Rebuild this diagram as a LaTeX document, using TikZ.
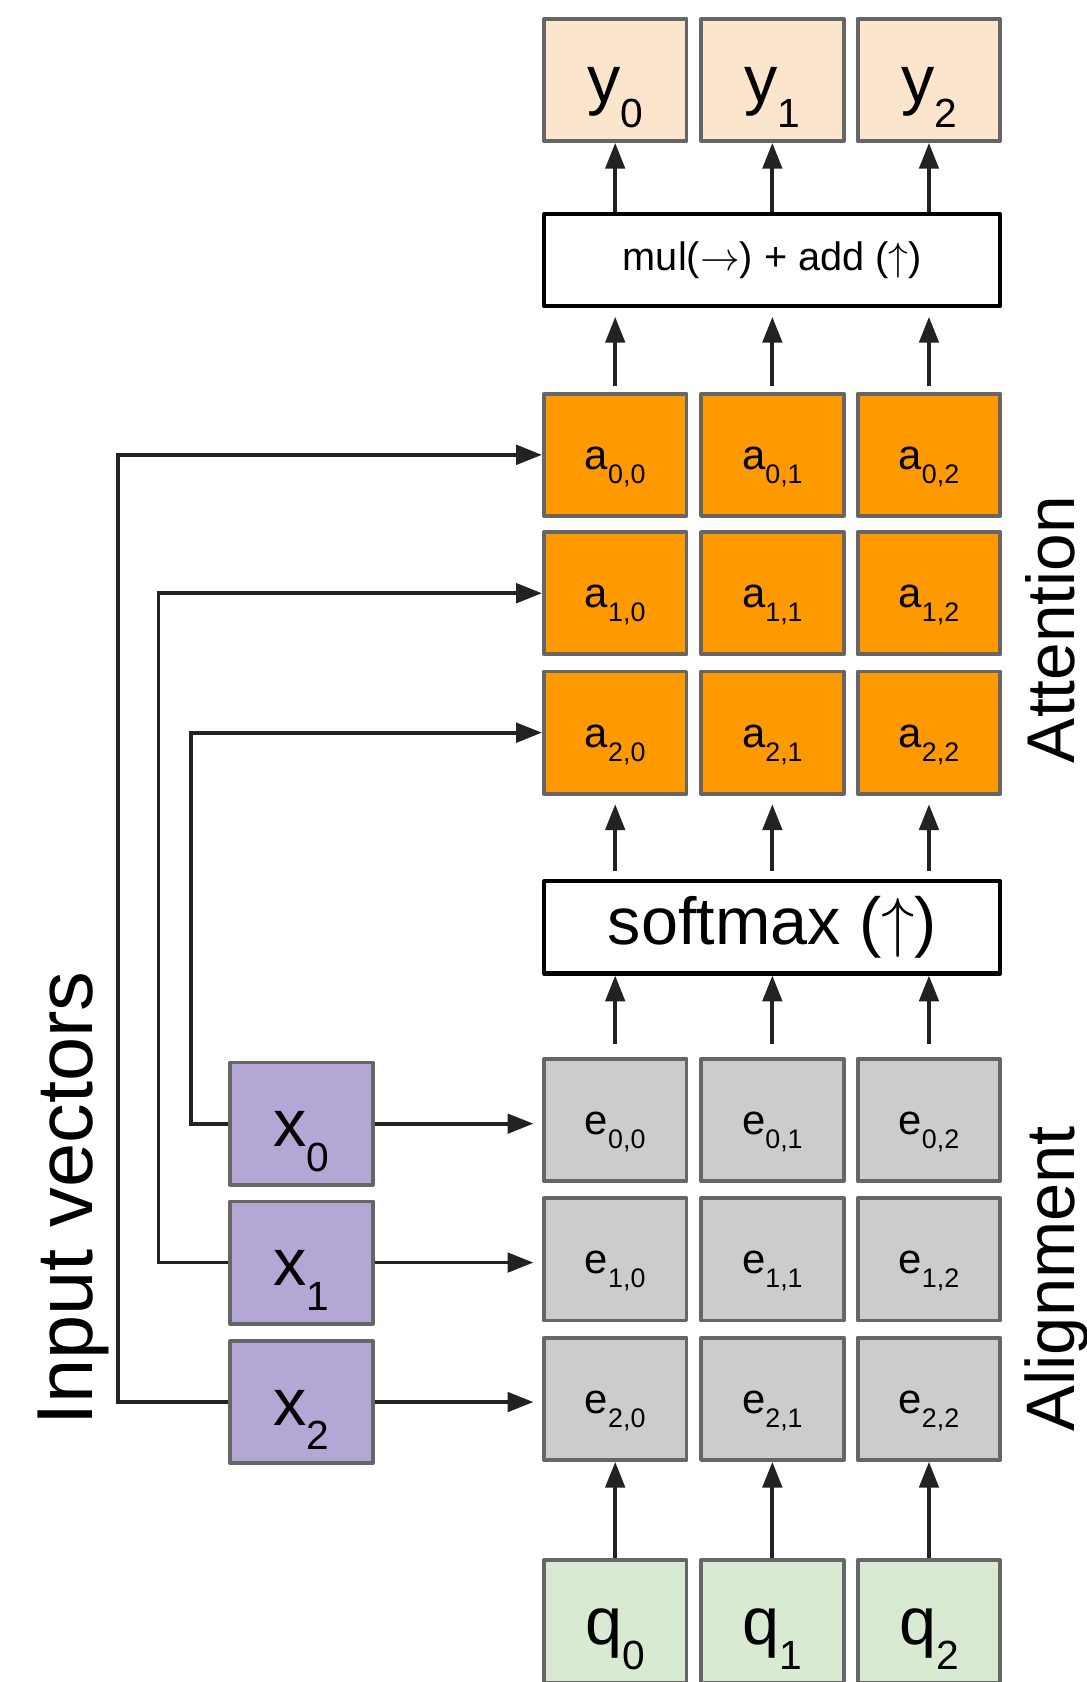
\RequirePackage{fix-cm}
\documentclass[tikz,border=0pt]{standalone}
\usepackage{fontspec}
\setmainfont{Liberation Sans}
\usetikzlibrary{arrows.meta}
\definecolor{ycol}{HTML}{FCE5CD}
\definecolor{acol}{HTML}{FF9900}
\definecolor{ecol}{HTML}{CCCCCC}
\definecolor{qcol}{HTML}{D9EAD3}
\definecolor{xcol}{HTML}{B4A7D6}
\definecolor{bordercol}{HTML}{666666}
\definecolor{arrcol}{HTML}{222222}
\newcommand{\BL}[2]{{\fontsize{62}{62}\selectfont #1\raisebox{-23pt}{\fontsize{38}{38}\selectfont #2}}}
\newcommand{\SL}[2]{{\fontsize{39}{39}\selectfont #1\raisebox{-13pt}{\fontsize{25}{25}\selectfont #2}}}
\tikzset{
  cell/.style={draw=bordercol, line width=3.5pt, line join=round, minimum width=133pt, minimum height=114pt, inner sep=0pt},
  bigcell/.style={cell, text height=43pt, text depth=0pt},
  smallcell/.style={cell, text height=27pt, text depth=0pt},
  opbox/.style={draw=black, line width=3.8pt, line join=round, fill=white, minimum width=425pt, minimum height=86pt, inner sep=0pt},
  arr/.style={draw=arrcol, line width=3.5pt, -{Triangle[width=18pt,length=24pt]}},
  sidetext/.style={rotate=90, anchor=base, inner sep=0pt}
}
\begin{document}
\begin{tikzpicture}[x=1pt, y=-1pt]
\useasboundingbox (0,0) rectangle (1013,1568);
\clip (0,0) rectangle (1013,1568);
% columns
\def\cA{573.5}\def\cB{720}\def\cC{866}
% output y
\foreach \c/\i in {\cA/0,\cB/1,\cC/2}{
  \node[bigcell, fill=ycol] (y\i) at (\c,74.5) {\BL{y}{\i}};
}
\node[opbox] (mul) at (720,242.5) {\fontsize{37}{37}\selectfont mul($\rightarrow$) + add ($\uparrow$)};
% attention
\foreach \r/\yy in {0/424,1/553,2/683}{
  \foreach \c/\j in {\cA/0,\cB/1,\cC/2}{
    \node[smallcell, fill=acol] (a\r\j) at (\c,\yy) {\SL{a}{\r,\j}};
  }
}
\node[opbox] (sm) at (720,864.5) {\fontsize{62}{62}\selectfont softmax ($\uparrow$)};
% alignment
\foreach \r/\yy in {0/1044,1/1174,2/1304}{
  \foreach \c/\j in {\cA/0,\cB/1,\cC/2}{
    \node[smallcell, fill=ecol] (e\r\j) at (\c,\yy) {\SL{e}{\r,\j}};
  }
}
% queries
\foreach \c/\i in {\cA/0,\cB/1,\cC/2}{
  \node[bigcell, fill=qcol] (q\i) at (\c,1511.5) {\BL{q}{\i}};
}
% inputs
\foreach \i/\yy in {0/1047.5,1/1177,2/1307}{
  \node[bigcell, fill=xcol] (x\i) at (281,\yy) {\BL{x}{\i}};
}
% side labels
\node[sidetext] (lin) at (86,1117.5) {\fontsize{74}{74}\selectfont Input vectors};
\node[sidetext] (latt) at (1002,587) {\fontsize{63}{63}\selectfont Attention};
\node[sidetext] (lal) at (1002,1192) {\fontsize{64}{64}\selectfont Alignment};
% vertical arrows
\foreach \j in {0,1,2}{
  \draw[arr] (q\j.north) -- (e2\j.south);
  \draw[arr, shorten <=12pt] (e0\j.north) -- (e0\j.north |- sm.south);
  \draw[arr, shorten <=8pt, shorten >=8pt] (a2\j.south |- sm.north) -- (a2\j.south);
  \draw[arr, shorten <=5pt, shorten >=8pt] (a0\j.north) -- (a0\j.north |- mul.south);
  \draw[arr] (y\j.south |- mul.north) -- (y\j.south);
}
% input arrows to alignment
\foreach \i in {0,1,2}{
  \draw[arr, shorten >=8pt] (x\i.east) -- (x\i.east -| e\i0.west);
}
% input loops to attention
\draw[arr] (x0.west) -- ++(-35,0) |- (a20.west);
\draw[arr] (x1.west) -- ++(-65,0) |- (a10.west);
\draw[arr] (x2.west) -- ++(-103,0) |- (a00.west);
\end{tikzpicture}
\end{document}
